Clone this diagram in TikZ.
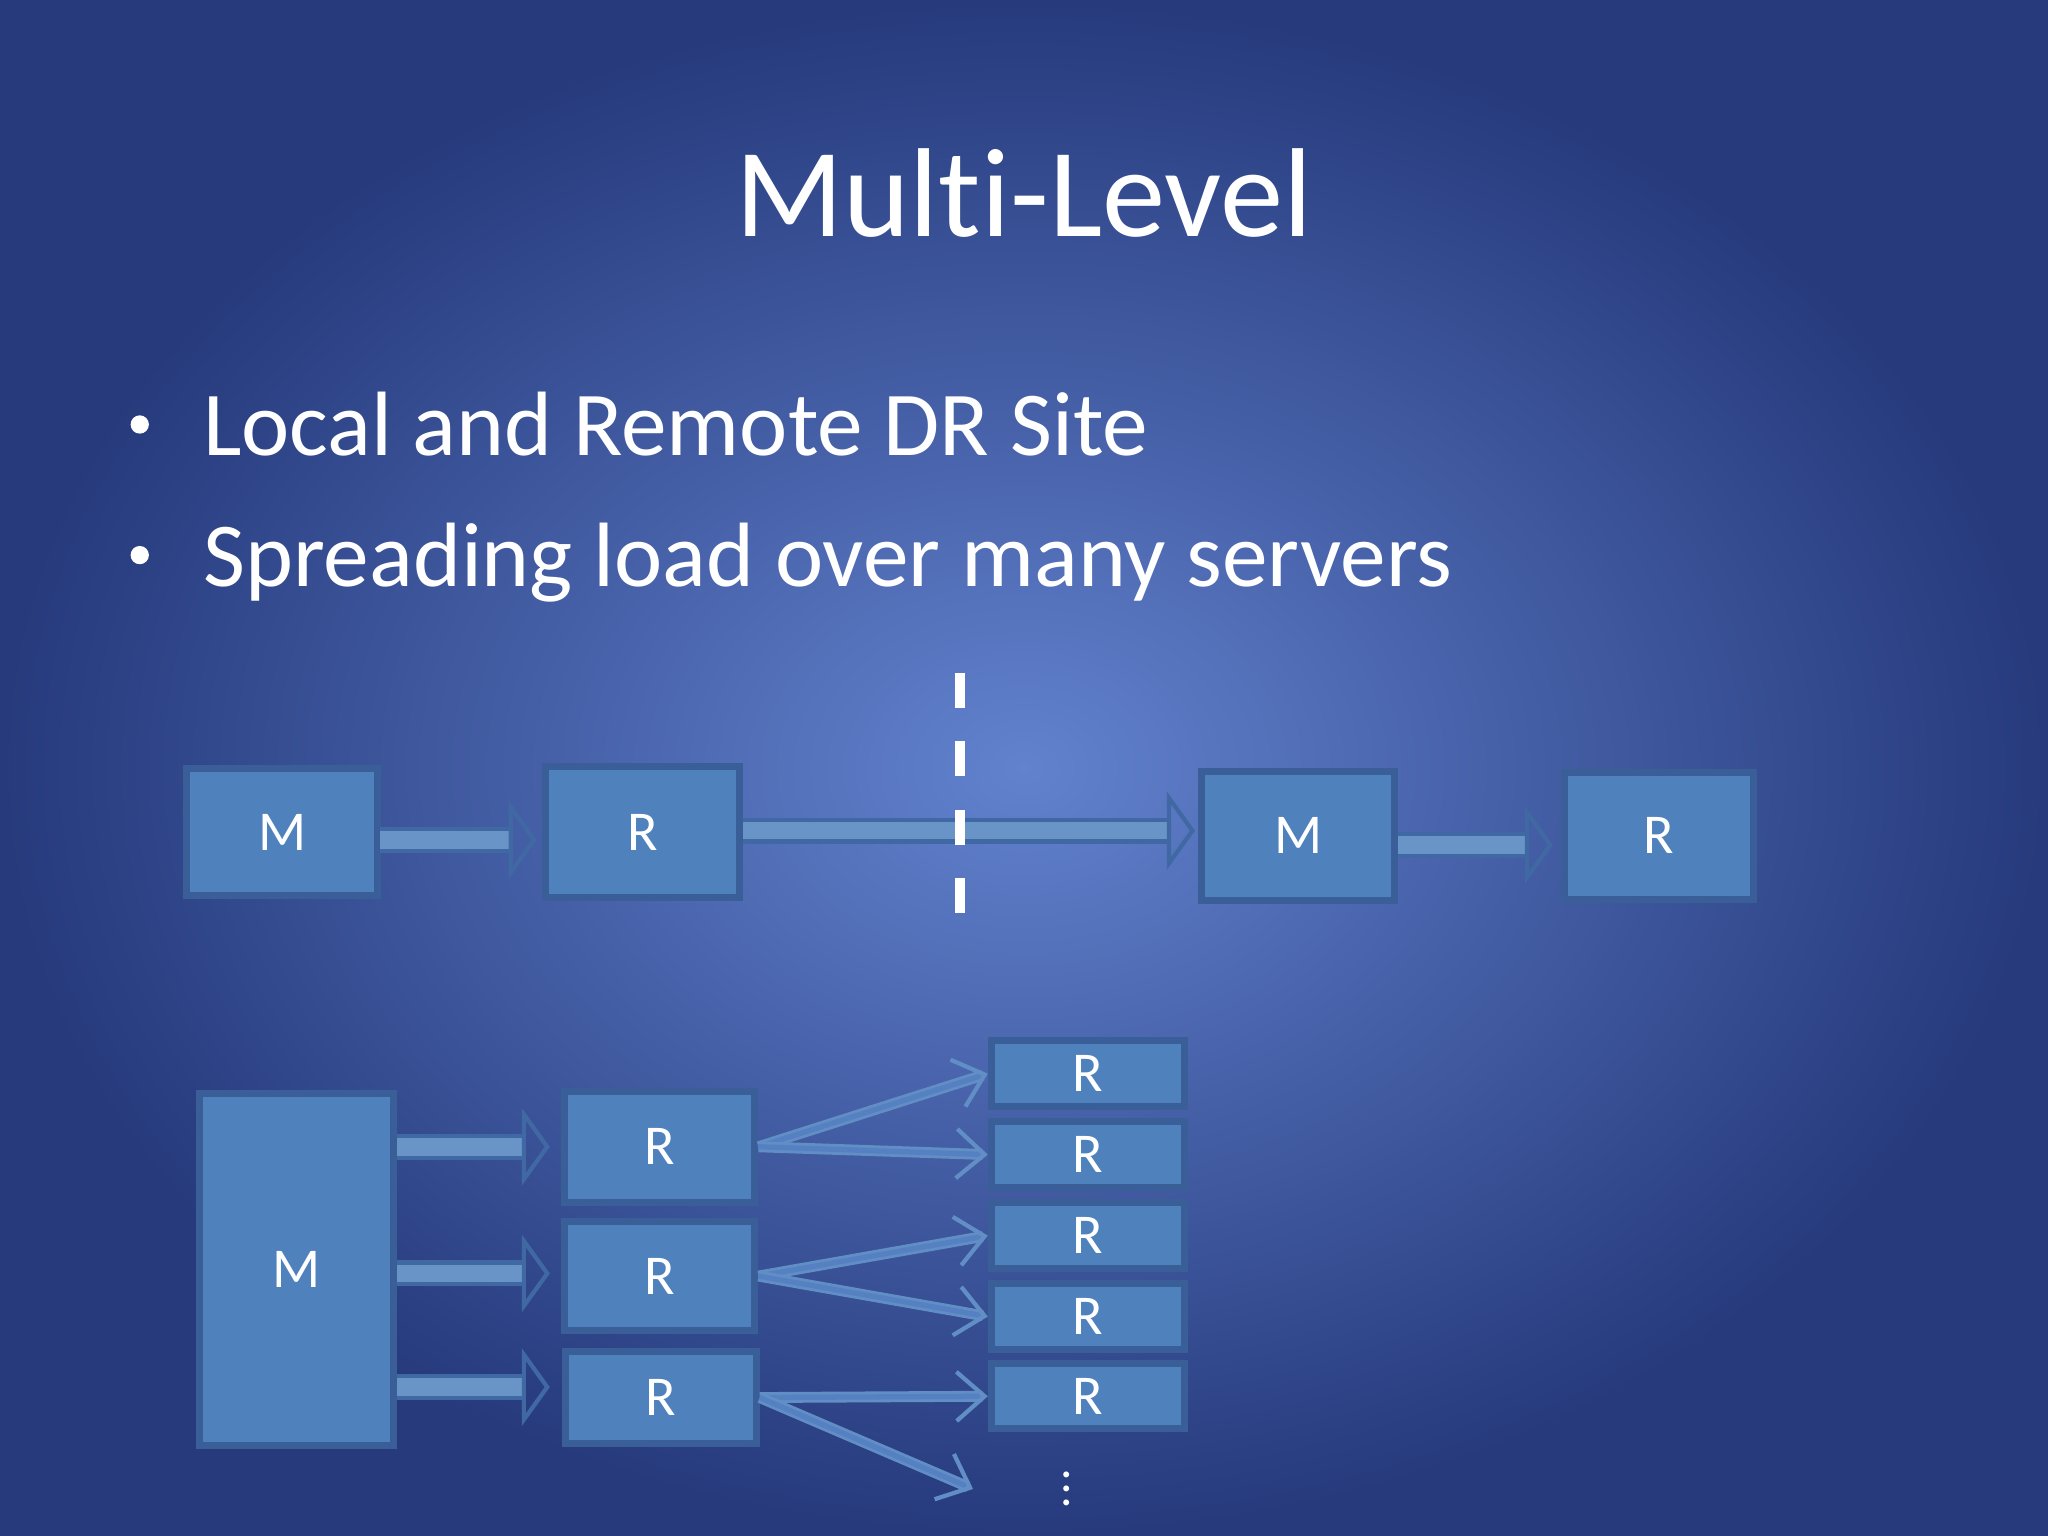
\documentclass[tikz,border=0pt]{standalone}
\usepackage{fontspec}
\setmainfont[Ligatures=NoCommon]{Carlito}
\usetikzlibrary{calc,arrows.meta}
\definecolor{bgin}{HTML}{6282CE}
\definecolor{bgout}{HTML}{263A7C}
\definecolor{boxfill}{HTML}{4F81BD}
\definecolor{boxedge}{HTML}{3A5F98}
\tikzset{
  box/.style={draw=boxedge, line width=2pt, fill=boxfill, text=white, font=\fontsize{16}{18}\selectfont, inner sep=0pt},
  blk/.style={draw=boxedge!70!boxfill, double=boxfill!85!white, double distance=5pt, line width=1.2pt,
    -{Triangle[open, length=8pt, width=22pt]}},
  thin/.style={draw=boxfill!90!white, double=boxfill!70!bgin, double distance=1.5pt, line width=0.8pt,
    -{Straight Barb[length=8pt, width=14pt, line width=1.2pt]}},
  bul/.style={text=white, font=\fontsize{26}{30}\selectfont, anchor=base west, inner sep=0pt},
}
\begin{document}
\begin{tikzpicture}[x=0.013061cm, y=-0.013061cm]
  \shade[inner color=bgin, outer color=bgout] (0,0) rectangle (1568,1176);
  \useasboundingbox (0,0) rectangle (1568,1176);

  \node[text=white, font=\fontsize{36}{40}\selectfont] (title) at (784,148) {Multi-Level};
  \node[bul] (b1) at (155,349) {Local and Remote DR Site};
  \node[bul] (b2) at (155,449) {Spreading load over many servers};
  \fill[white] (107,325) circle (7);
  \fill[white] (107,425) circle (7);

  % top row
  \node[box, minimum width=146*0.013061cm, minimum height=97*0.013061cm] (m1) at (216,637) {M};
  \node[box, minimum width=149*0.013061cm, minimum height=100*0.013061cm] (r1) at (492,637) {R};
  \node[box, minimum width=148*0.013061cm, minimum height=99*0.013061cm] (m2) at (994,640) {M};
  \node[box, minimum width=145*0.013061cm, minimum height=97*0.013061cm] (r2) at (1270,640) {R};
  \draw[blk] (291,643) -- (411,643);
  \draw[blk] (569,636) -- (915,636);
  \draw[blk] (1070,647) -- (1189,647);
  \draw[white, line width=3pt, dash pattern=on 10pt off 9.5pt] (735,515) -- (735,712);

  % bottom
  \node[box, minimum width=148*0.013061cm, minimum height=270*0.013061cm] (m3) at (227,972) {M};
  \node[box, minimum width=146*0.013061cm, minimum height=85*0.013061cm] (ra) at (505,878) {R};
  \node[box, minimum width=146*0.013061cm, minimum height=83*0.013061cm] (rb) at (505,977) {R};
  \node[box, minimum width=146*0.013061cm, minimum height=70*0.013061cm] (rc) at (506,1070) {R};
  \foreach \n/\y in {1/822,2/884,3/946,4/1008,5/1069}
    \node[box, minimum width=148*0.013061cm, minimum height=50*0.013061cm] (s\n) at (833,\y) {R};
  \node[text=white, font=\fontsize{14}{16}\selectfont, inner sep=0pt] (dots) at (817,1132) {$\vdots$};
  \coordinate (dd) at (745,1140);

  \draw[blk] (304,878) -- (421,878);
  \draw[blk] (304,975) -- (421,975);
  \draw[blk] (304,1062) -- (421,1062);

  \draw[thin] (ra.east) -- (s1.west);
  \draw[thin] (ra.east) -- (s2.west);
  \draw[thin] (rb.east) -- (s3.west);
  \draw[thin] (rb.east) -- (s4.west);
  \draw[thin] (rc.east) -- (s5.west);
  \draw[thin] (rc.east) -- (dd);
\end{tikzpicture}
\end{document}
